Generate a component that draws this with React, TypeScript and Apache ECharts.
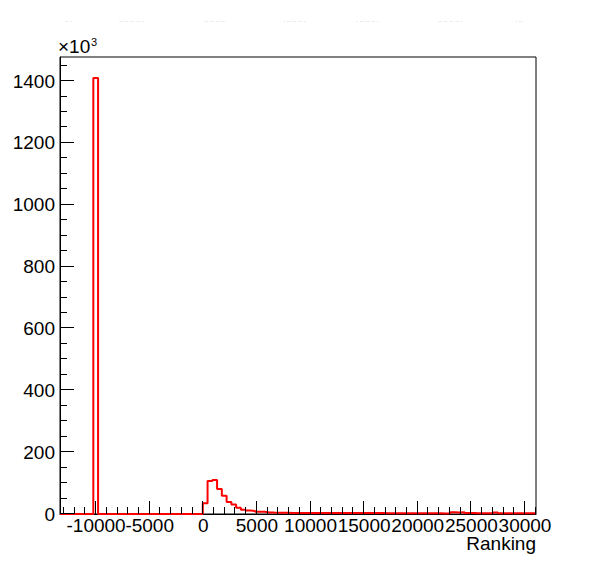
import React, { useEffect, useRef } from "react";
import * as echarts from "echarts";

// Histogram definition (x range of the frame, 100 bins)
const xMin = -13364;
const xMax = 31027;
const binCount = 100;

// Bin contents in units of 10^3 entries
const counts: number[] = [
  0, 0, 0, 0, 0, 0, 0,
  1410,
  0, 0, 0, 0, 0, 0, 0, 0, 0, 0, 0, 0, 0, 0, 0, 0, 0, 0, 0, 0, 0, 0,
  35, 107, 110, 81, 59, 39, 31, 20, 14, 11, 10, 7.5, 7,
  5, 4.5, 4.2, 4, 3.8, 3.6, 3.5, 3.4,
  3.3, 3.3, 3.2, 3.2, 3.2, 3.1, 3.1, 3.1, 3.0, 3.0, 3.0, 3.0, 3.0, 2.9, 2.9,
  2.9, 2.9, 2.8, 2.8, 2.8, 2.8, 2.8, 2.7, 2.7, 2.7, 2.7, 2.6, 2.6, 2.6,
  2.0, 2.2, 5.5, 4.8, 5.5, 3.0, 3.0, 2.8, 2.8, 2.8, 2.7, 5.0, 2.6, 2.5, 2.5,
  2.4, 2.4, 2.3, 2.3, 2.2,
];

const xTickValues = [-10000, -5000, 0, 5000, 10000, 15000, 20000, 25000, 30000];
const xMinorValues = [
  -13000, -12000, -11000, -9000, -8000, -7000, -6000, -4000, -3000, -2000, -1000,
  1000, 2000, 3000, 4000, 6000, 7000, 8000, 9000, 11000, 12000, 13000, 14000,
  16000, 17000, 18000, 19000, 21000, 22000, 23000, 24000, 26000, 27000, 28000,
  29000, 31000,
];
const yMax = 1478;
const yTickValues = [0, 200, 400, 600, 800, 1000, 1200, 1400];
const yMinorValues = [
  50, 100, 150, 250, 300, 350, 450, 500, 550, 650, 700, 750, 850, 900, 950,
  1050, 1100, 1150, 1250, 1300, 1350, 1450,
];

const xTitle = "Ranking";
const FONT = "'Liberation Sans', Arial, Helvetica, sans-serif";

function yTickSeries(values: number[], len: number) {
  return {
    type: "custom",
    xAxisIndex: 0,
    yAxisIndex: 0,
    data: values.map((v) => [xMin, v]),
    silent: true,
    clip: false,
    z: 5,
    renderItem: (params: any, api: any) => {
      const p = api.coord([api.value(0), api.value(1)]);
      return {
        type: "rect",
        shape: { x: p[0], y: Math.round(p[1]) - 1, width: len, height: 1 },
        style: { fill: "#000" },
      };
    },
  };
}

function xLabelSeries(values: number[]) {
  return {
    type: "custom",
    xAxisIndex: 0,
    yAxisIndex: 0,
    data: values.map((v) => [v, 0]),
    silent: true,
    clip: false,
    z: 5,
    renderItem: (params: any, api: any) => {
      const v = api.value(0);
      const p = api.coord([v, api.value(1)]);
      return {
        type: "text",
        x: p[0],
        y: p[1] + 3,
        style: {
          text: String(v),
          fontSize: 19,
          lineHeight: 16,
          fontFamily: FONT,
          fill: "#000",
          align: "center",
          verticalAlign: "top",
        },
      };
    },
  };
}

export default function App() {
  const ref = useRef<HTMLDivElement>(null);

  useEffect(() => {
    if (!ref.current) return;
    const chart = echarts.init(ref.current, null, { renderer: "svg" });
    const binWidth = (xMax - xMin) / binCount;
    const stepData: number[][] = counts.map((c, i) => [xMin + i * binWidth, c]);
    stepData.push([xMax, counts[counts.length - 1]]);

    const dotGroups = [
      { x: 65, t: "·· ·" },
      { x: 119, t: "·· ·· ·· ·· ·" },
      { x: 204, t: "·· ·· ·· ··" },
      { x: 283, t: "· ·· ·· ·· ·" },
      { x: 356, t: "· ·· ·· ·· ·" },
      { x: 438, t: "·· ·· ·· ·· ·" },
      { x: 515, t: "· ··" },
    ];

    const baseGraphic: any[] = [
      {
        type: "text",
        left: 58,
        top: 37,
        style: { text: "×10", fontSize: 19, fontFamily: FONT, fill: "#000" },
      },
      {
        type: "text",
        left: 91,
        top: 36,
        style: { text: "3", fontSize: 11, fontFamily: FONT, fill: "#000" },
      },
      {
        type: "text",
        right: 60,
        top: 534,
        style: { text: xTitle, fontSize: 19, lineHeight: 16, fontFamily: FONT, fill: "#000" },
      },
      ...dotGroups.map((d) => ({
        type: "text",
        left: d.x,
        top: 18,
        style: { text: d.t, fontSize: 6, fontFamily: FONT, fill: "#9a9a9a" },
      })),
    ];

    chart.setOption({
      animation: false,
      backgroundColor: "#ffffff",
      grid: {
        left: 60,
        right: 60,
        top: 57,
        bottom: 58,
        show: true,
        borderColor: "#000",
        borderWidth: 1,
        backgroundColor: "transparent",
      },
      xAxis: {
        type: "value",
        min: xMin,
        max: xMax,
        position: "bottom",
        axisLine: { show: true, onZero: false, lineStyle: { color: "#000", width: 1 } },
        axisTick: { show: false },
        axisLabel: { show: false },
        splitLine: { show: false },
      },
      yAxis: {
        type: "value",
        min: 0,
        max: yMax,
        position: "left",
        axisLine: { show: true, onZero: false, lineStyle: { color: "#000", width: 1 } },
        axisTick: { show: false },
        axisLabel: {
          show: true,
          customValues: yTickValues,
          hideOverlap: false,
          formatter: (v: number) => String(v),
          color: "#000",
          fontSize: 19,
          fontFamily: FONT,
          margin: 5,
        },
        splitLine: { show: false },
      },
      series: [
        {
          type: "line",
          xAxisIndex: 0,
          yAxisIndex: 0,
          data: stepData,
          step: "end",
          showSymbol: false,
          symbol: "none",
          clip: true,
          lineStyle: { color: "#ff0000", width: 2 },
          z: 2,
        },
        yTickSeries(yTickValues, 14),
        yTickSeries(yMinorValues, 7),
        xLabelSeries(xTickValues),
      ],
      graphic: baseGraphic,
    });

    // x-axis ticks, placed through the axis scale
    const tickRects: any[] = [];
    const addTicks = (values: number[], len: number) => {
      values.forEach((v) => {
        const p = chart.convertToPixel({ gridIndex: 0 }, [v, 0]) as number[];
        tickRects.push({
          type: "rect",
          z: 100,
          silent: true,
          shape: { x: Math.round(p[0]) - 1, y: Math.round(p[1]) - len, width: 1, height: len },
          style: { fill: "#000" },
        });
      });
    };
    addTicks(xTickValues, 13);
    addTicks(xMinorValues, 7);
    chart.setOption({ graphic: [...baseGraphic, ...tickRects] });

    return () => chart.dispose();
  }, []);

  return (
    <div
      ref={ref}
      style={{ position: "fixed", left: 0, top: 0, width: 596, height: 572, background: "#fff" }}
    />
  );
}
